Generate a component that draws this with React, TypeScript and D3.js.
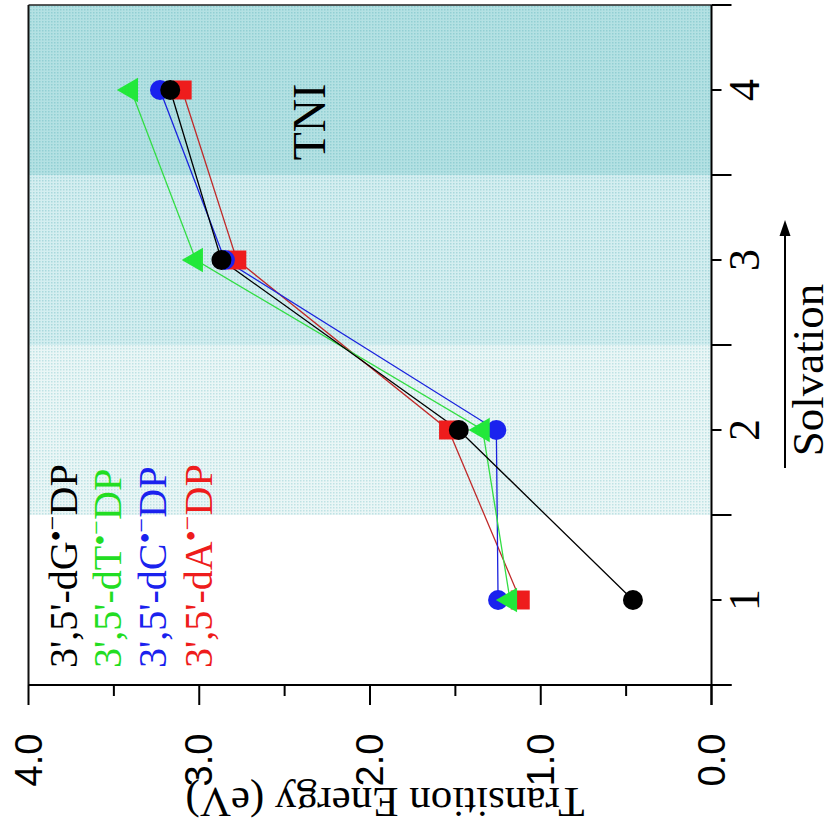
import React from 'react';
import * as d3 from 'd3';

// ---- data ----
const solvation = [1, 2, 3, 4];
const dG = [0.46, 1.48, 2.87, 3.17];
const dT = [1.18, 1.34, 3.02, 3.4];
const dC = [1.25, 1.26, 2.85, 3.23];
const dA = [1.12, 1.54, 2.78, 3.1];
const legendLetters = ['G', 'T', 'C', 'A'];
const energyTicks = [0, 1, 2, 3, 4];
const energyMinor = [0.5, 1.5, 2.5, 3.5];
const solvationTicks = [1, 2, 3, 4];
const solvationHalf = [0.5, 1.5, 2.5, 3.5, 4.5];
const regions = [
  [1.5, 2.5],
  [2.5, 3.5],
  [3.5, 4.5],
];

const W = 835;
const H = 840;
const serif = '"Liberation Serif", "Times New Roman", serif';
const sans = '"Liberation Sans", Arial, sans-serif';

export default function App() {
  // energy runs horizontally (right to left), solvation vertically (bottom to top)
  const x = d3.scaleLinear().domain([0, 4]).range([711.5, 28.5]);
  const y = d3.scaleLinear().domain([0.5, 4.5]).range([685, 5]);

  const series = [
    { key: 'A', values: dA, color: '#ee1c1c', line: '#c02a2a', symbol: d3.symbolSquare, size: 360, rot: 0 },
    { key: 'C', values: dC, color: '#1a22ee', line: '#1a22dd', symbol: d3.symbolCircle, size: 314, rot: 0 },
    { key: 'T', values: dT, color: '#22e83a', line: '#33dd44', symbol: d3.symbolTriangle, size: 260, rot: -90 },
    { key: 'G', values: dG, color: '#000000', line: '#000000', symbol: d3.symbolCircle, size: 314, rot: 0 },
  ];
  const legendColors: Record<string, string> = { G: '#000000', T: '#22dd22', C: '#1a22ee', A: '#ee1c1c' };

  const line = d3
    .line<[number, number]>()
    .x((d) => x(d[1]))
    .y((d) => y(d[0]));

  const regionFills = ['url(#p1)', 'url(#p2)', 'url(#p3)'];
  const legendBase = [77, 121, 166, 212];

  return (
    <svg width={W} height={H} style={{ position: 'absolute', left: 0, top: 0, background: '#fff' }}>
      <defs>
        <pattern id="p1" width="3" height="3" patternUnits="userSpaceOnUse">
          <rect width="3" height="3" fill="#eaf6f6" />
          <rect width="1.5" height="1.5" fill="#bfe2e4" />
        </pattern>
        <pattern id="p2" width="3" height="3" patternUnits="userSpaceOnUse">
          <rect width="3" height="3" fill="#d4eef0" />
          <rect width="1.5" height="1.5" fill="#a9d8dc" />
        </pattern>
        <pattern id="p3" width="3" height="3" patternUnits="userSpaceOnUse">
          <rect width="3" height="3" fill="#b4e1e3" />
          <rect width="1.5" height="1.5" fill="#92cfd3" />
        </pattern>
      </defs>

      {/* shaded regions */}
      {regions.map((r, i) => (
        <rect
          key={i}
          x={x(4)}
          y={y(r[1])}
          width={x(0) - x(4)}
          height={y(r[0]) - y(r[1])}
          fill={regionFills[i]}
        />
      ))}

      {/* frame */}
      <line x1={x(4)} x2={x(0)} y1={y(4.5)} y2={y(4.5)} stroke="#222" strokeWidth={1.5} />
      <line x1={x(4)} x2={x(4)} y1={y(4.5)} y2={y(0.5)} stroke="#111" strokeWidth={2} />
      {/* energy axis (bottom) */}
      <line x1={x(4)} x2={x(0) + 20} y1={y(0.5)} y2={y(0.5)} stroke="#000" strokeWidth={2} />
      {energyTicks.map((t) => (
        <line key={'et' + t} x1={x(t)} x2={x(t)} y1={y(0.5)} y2={y(0.5) + 20} stroke="#000" strokeWidth={2} />
      ))}
      {energyMinor.map((t) => (
        <line key={'em' + t} x1={x(t)} x2={x(t)} y1={y(0.5)} y2={y(0.5) + 11} stroke="#000" strokeWidth={2} />
      ))}
      {energyTicks.map((t) => (
        <text
          key={'el' + t}
          transform={`translate(${x(t)},760) rotate(-90)`}
          textAnchor="middle"
          dominantBaseline="central"
          fontFamily={sans}
          fontSize={38}
          fill="#000"
        >
          {d3.format('.1f')(t)}
        </text>
      ))}
      <text
        transform="translate(385,802) rotate(180)"
        textAnchor="middle"
        dominantBaseline="central"
        fontFamily={serif}
        fontSize={43}
        fill="#000"
      >
        Transition Energy (eV)
      </text>

      {/* solvation axis (right) */}
      <line x1={x(0)} x2={x(0)} y1={y(4.5)} y2={y(0.5) + 20} stroke="#000" strokeWidth={2} />
      {solvationHalf.map((t) => (
        <line key={'sh' + t} x1={x(0)} x2={x(0) + 20} y1={y(t)} y2={y(t)} stroke="#000" strokeWidth={2} />
      ))}
      {solvationTicks.map((t) => (
        <line key={'st' + t} x1={x(0)} x2={x(0) + 10} y1={y(t)} y2={y(t)} stroke="#000" strokeWidth={2} />
      ))}
      {solvationTicks.map((t) => (
        <text
          key={'sl' + t}
          transform={`translate(744,${y(t)}) rotate(-90)`}
          textAnchor="middle"
          dominantBaseline="central"
          fontFamily={serif}
          fontSize={44}
          fill="#000"
        >
          {t}
        </text>
      ))}
      <text
        transform="translate(823,370) rotate(-90)"
        textAnchor="middle"
        fontFamily={serif}
        fontSize={45}
        fill="#000"
      >
        Solvation
      </text>
      <line x1={785} x2={785} y1={468} y2={232} stroke="#000" strokeWidth={2} />
      <polygon points="785,220 779.5,236 790.5,236" fill="#000" />

      {/* TNI */}
      <text
        transform="translate(325,122) rotate(-90)"
        textAnchor="middle"
        fontFamily={serif}
        fontSize={46}
        fill="#000"
      >
        TNI
      </text>

      {/* lines */}
      {series.map((s) => (
        <path
          key={'l' + s.key}
          d={line(solvation.map((v, i) => [v, s.values[i]] as [number, number])) || ''}
          fill="none"
          stroke={s.line}
          strokeWidth={1.3}
        />
      ))}
      {/* markers */}
      {series.map((s) =>
        solvation.map((v, i) => (
          <path
            key={'m' + s.key + i}
            d={d3.symbol().type(s.symbol).size(s.size)() || ''}
            transform={`translate(${x(s.values[i])},${y(v)}) rotate(${s.rot})`}
            fill={s.color}
          />
        ))
      )}

      {/* legend */}
      {legendLetters.map((L, i) => (
        <text
          key={'lg' + L}
          transform={`translate(${legendBase[i]},668) rotate(-90)`}
          fontFamily={serif}
          fontSize={40}
          fill={legendColors[L]}
        >
          {`3',5'-d${L}`}
          <tspan fontSize={32} dy={-10}>
            •
          </tspan>
          <tspan fontSize={26} dy={-6}>
            −
          </tspan>
          <tspan dy={16}>DP</tspan>
        </text>
      ))}
    </svg>
  );
}
